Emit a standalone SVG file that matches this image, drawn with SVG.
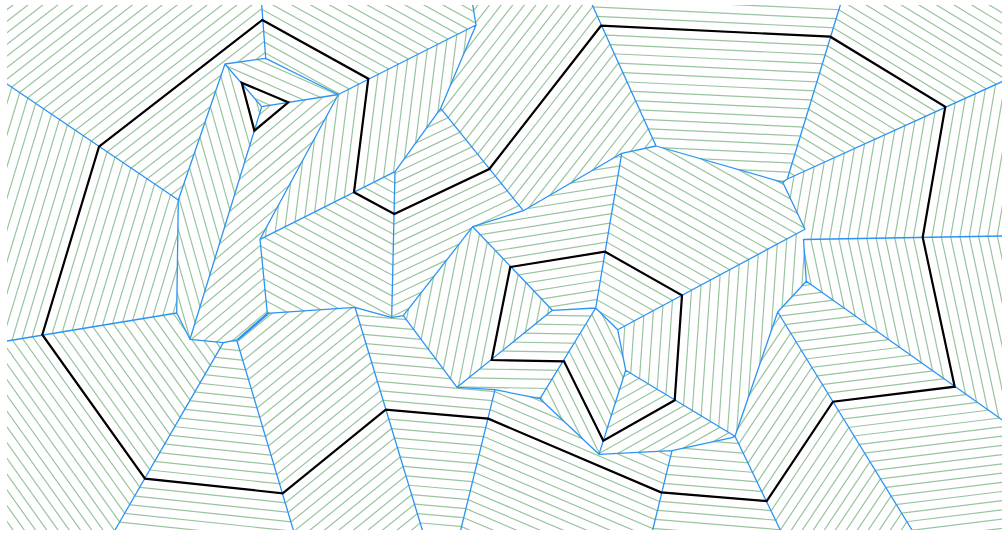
<svg xmlns="http://www.w3.org/2000/svg" width="1002" height="533" viewBox="0 0 1002 533">
<style>
#st{fill:none;stroke:#98c49e;stroke-width:2400;stroke-dasharray:1.2 7.95}
.b{fill:none;stroke:#2a94f5;stroke-width:1.3;stroke-linejoin:round;stroke-linecap:round}
.k{fill:none;stroke:#000;stroke-width:2.2;stroke-linejoin:miter}
</style>
<defs>
<line id="st" x1="0" y1="-1190.1" x2="0" y2="1190"/>
<clipPath id="frame"><rect x="7" y="5" width="995" height="525"/></clipPath>
<clipPath id="cAB"><polygon points="261.7,5 265.7,58.3 338.3,94.5 476,25 472.7,5"/></clipPath>
<clipPath id="cBC"><polygon points="476,25 440.7,108.3 395,171.7 260,239.3 338.3,94.5"/></clipPath>
<clipPath id="cCD"><polygon points="395,171.7 391.7,317.7 355,307.3 267.3,313.3 260,239.3"/></clipPath>
<clipPath id="cDE"><polygon points="395,171.7 440.7,108.3 523.3,210.7 472.7,226.7 403.3,315.7 391.7,317.7"/></clipPath>
<clipPath id="cEF"><polygon points="440.7,108.3 476,25 472.7,5 592.3,5 656,146 621.7,153.3 523.3,210.7"/></clipPath>
<clipPath id="cFG"><polygon points="592.3,5 840.3,5 787.3,179 782.7,182.3 656,146"/></clipPath>
<clipPath id="cGH"><polygon points="840.3,5 1002,5 1002,81.7 787.3,179"/></clipPath>
<clipPath id="cHI"><polygon points="787.3,179 1002,81.7 1002,236 803.5,239.5 805,229.3 782.7,182.3"/></clipPath>
<clipPath id="cIJ"><polygon points="803.5,239.5 1002,236 1002,419.7 806.3,281.3"/></clipPath>
<clipPath id="cJK"><polygon points="806.3,281.3 1002,419.7 1002,530 912,530 777.7,312"/></clipPath>
<clipPath id="cKL"><polygon points="777.7,312 912,530 780.3,530 735,436.3"/></clipPath>
<clipPath id="cLM"><polygon points="735,436.3 780.3,530 652.7,530 672,450.7 732,437.7"/></clipPath>
<clipPath id="cMN"><polygon points="495,389.7 540,398.7 599,454.3 672,450.7 652.7,530 460.7,530"/></clipPath>
<clipPath id="cNO"><polygon points="355,307.3 391.7,317.7 403.3,315.7 457,387.3 495,389.7 460.7,530 422.3,530"/></clipPath>
<clipPath id="cOP"><polygon points="267.3,313.3 355,307.3 422.3,530 293.3,530 236.7,340"/></clipPath>
<clipPath id="cPQ"><polygon points="236.7,340 293.3,530 115,530 223.3,342.7"/></clipPath>
<clipPath id="cQR"><polygon points="223.3,342.7 190,339.3 176.7,313 7,341 7,530 115,530"/></clipPath>
<clipPath id="cRS"><polygon points="176.7,313 178.3,200 7,84 7,341"/></clipPath>
<clipPath id="cSA"><polygon points="7,84 7,5 261.7,5 265.7,58.3 225,64 178.3,200"/></clipPath>
<clipPath id="cT1"><polygon points="225,64 265.7,58.3 338.3,94.5 288.3,102.3 261.7,106.7"/></clipPath>
<clipPath id="cT2"><polygon points="261.7,106.7 288.3,102.3 338.3,94.5 260,239.3 267.3,313.3 236.7,340 223.3,342.7 190,339.3"/></clipPath>
<clipPath id="cT3"><polygon points="261.7,106.7 190,339.3 176.7,313 178.3,200 225,64"/></clipPath>
<clipPath id="cH1"><polygon points="472.7,226.7 523.3,210.7 621.7,153.3 595.7,308 552.3,310.3"/></clipPath>
<clipPath id="cH2"><polygon points="621.7,153.3 656,146 782.7,182.3 805,229.3 617.7,329.7 595.7,308"/></clipPath>
<clipPath id="cH3"><polygon points="805,229.3 803.5,239.5 806.3,281.3 777.7,312 735,436.3 625.7,370.3 617.7,329.7"/></clipPath>
<clipPath id="cH4"><polygon points="735,436.3 732,437.7 672,450.7 599,454.3 625.7,370.3"/></clipPath>
<clipPath id="cH5"><polygon points="599,454.3 540,398.7 595.7,308 617.7,329.7 625.7,370.3"/></clipPath>
<clipPath id="cH6"><polygon points="540,398.7 495,389.7 457,387.3 552.3,310.3 595.7,308"/></clipPath>
<clipPath id="cH7"><polygon points="457,387.3 403.3,315.7 472.7,226.7 552.3,310.3"/></clipPath>
</defs>
<g clip-path="url(#frame)">
<g id="faces">
<g clip-path="url(#cAB)"><use href="#st" transform="translate(262.3 20) rotate(28.98)"/></g>
<g clip-path="url(#cBC)"><use href="#st" transform="translate(368.3 78.7) rotate(97.17)"/></g>
<g clip-path="url(#cCD)"><use href="#st" transform="translate(354 192.3) rotate(28.3)"/></g>
<g clip-path="url(#cDE)"><use href="#st" transform="translate(394.3 214) rotate(-25.35)"/></g>
<g clip-path="url(#cEF)"><use href="#st" transform="translate(489.3 169) rotate(-52.06)"/></g>
<g clip-path="url(#cFG)"><use href="#st" transform="translate(601 25.7) rotate(2.75)"/></g>
<g clip-path="url(#cGH)"><use href="#st" transform="translate(830.3 36.7) rotate(31.33)"/></g>
<g clip-path="url(#cHI)"><use href="#st" transform="translate(945.3 106.7) rotate(99.82)"/></g>
<g clip-path="url(#cIJ)"><use href="#st" transform="translate(922.7 237.3) rotate(77.91)"/></g>
<g clip-path="url(#cJK)"><use href="#st" transform="translate(833 401.7) rotate(-7.03)"/></g>
<g clip-path="url(#cKL)"><use href="#st" transform="translate(766.7 501) rotate(-56.28)"/></g>
<g clip-path="url(#cLM)"><use href="#st" transform="translate(661 492.3) rotate(4.71)"/></g>
<g clip-path="url(#cMN)"><use href="#st" transform="translate(488.3 418.7) rotate(23.08)"/></g>
<g clip-path="url(#cNO)"><use href="#st" transform="translate(385.7 409.7) rotate(5.01)"/></g>
<g clip-path="url(#cOP)"><use href="#st" transform="translate(282.7 493.3) rotate(-39.06)"/></g>
<g clip-path="url(#cPQ)"><use href="#st" transform="translate(145 478.7) rotate(6.05)"/></g>
<g clip-path="url(#cQR)"><use href="#st" transform="translate(42.3 334.7) rotate(54.5)"/></g>
<g clip-path="url(#cRS)"><use href="#st" transform="translate(42.3 334.7) rotate(-73.21)"/></g>
<g clip-path="url(#cSA)"><use href="#st" transform="translate(99 146.7) rotate(-37.81)"/></g>
<g clip-path="url(#cT1)"><use href="#st" transform="translate(241.7 82.7) rotate(23.81)"/></g>
<g clip-path="url(#cT2)"><use href="#st" transform="translate(254.7 130.7) rotate(-40.05)"/></g>
<g clip-path="url(#cT3)"><use href="#st" transform="translate(241.7 82.7) rotate(74.31)"/></g>
<g clip-path="url(#cH1)"><use href="#st" transform="translate(510.3 267) rotate(-9.18)"/></g>
<g clip-path="url(#cH2)"><use href="#st" transform="translate(605 251.7) rotate(29.52)"/></g>
<g clip-path="url(#cH3)"><use href="#st" transform="translate(674.7 400.3) rotate(-86.02)"/></g>
<g clip-path="url(#cH4)"><use href="#st" transform="translate(603.3 440.7) rotate(-29.5)"/></g>
<g clip-path="url(#cH5)"><use href="#st" transform="translate(564 361.3) rotate(63.67)"/></g>
<g clip-path="url(#cH6)"><use href="#st" transform="translate(491.7 360) rotate(1.03)"/></g>
<g clip-path="url(#cH7)"><use href="#st" transform="translate(491.7 360) rotate(-78.69)"/></g>
</g>
<g id="connectors">
<path class="b" d="M261.7 5L265.7 58.3L225 64L178.3 200L176.7 313L190 339.3L223.3 342.7L236.7 340L267.3 313.3L260 239.3L338.3 94.5L265.7 58.3
M338.3 94.5L476 25L472.7 5M476 25L440.7 108.3L395 171.7L260 239.3M395 171.7L391.7 317.7L355 307.3L267.3 313.3
M238.7 339.6L268 314.3M355 307.3L422.3 530M236.7 340L293.3 530M223.3 342.7L115 530M176.7 313L7 341M178.3 200L7 84
M225 64L261.7 106.7L190 339.3M261.7 106.7L338.3 94.5
M391.7 317.7L403.3 315.7L457 387.3L495 389.7L460.7 530M403.3 315.7L472.7 226.7L523.3 210.7L440.7 108.3M523.3 210.7L621.7 153.3L656 146L592.3 5
M656 146L782.7 182.3L787.3 179L840.3 5M787.3 179L1002 81.7M782.7 182.3L805 229.3L617.7 329.7L595.7 308L552.3 310.3L472.7 226.7
M803.5 239.5L1002 236M803.5 239.5L806.3 281.3L1002 419.7M806.3 281.3L777.7 312L912 530M777.7 312L735 436.3L780.3 530M735 436.3L625.7 370.3L617.7 329.7
M735 436.3L732 437.7L672 450.7L652.7 530M672 450.7L599 454.3L540 398.7L495 389.7M599 454.3L625.7 370.3M540 398.7L595.7 308L621.7 153.3M457 387.3L552.3 310.3"/>
</g>
<g id="outer-polygon"><polygon class="k" points="262.3,20 368.3,78.7 354,192.3 394.3,214 489.3,169 601,25.7 830.3,36.7 945.3,106.7 922.7,237.3 954.7,386.7 833,401.7 766.7,501 661,492.3 488.3,418.7 385.7,409.7 282.7,493.3 145,478.7 42.3,334.7 99,146.7"/></g>
<g id="hole-1"><polygon class="k" points="510.3,267 605,251.7 682,295.3 674.7,400.3 603.3,440.7 564,361.3 491.7,360"/></g>
<g id="hole-2"><polygon class="k" points="241.7,82.7 288.3,102.3 254.4,130.7"/></g>
</g>
</svg>
